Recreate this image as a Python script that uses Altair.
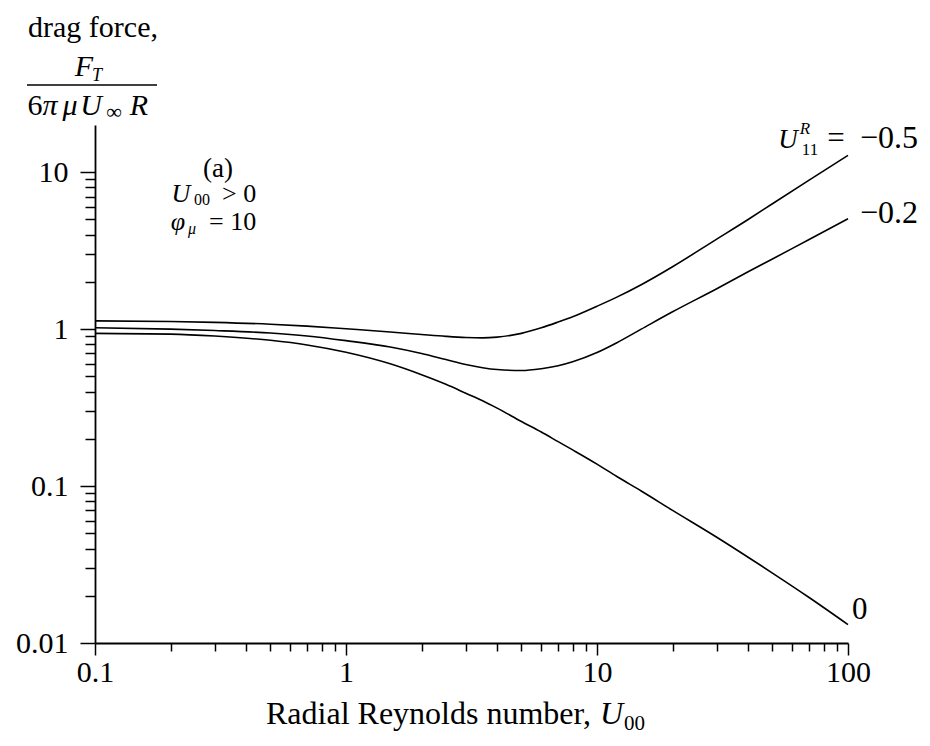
import altair as alt
import pandas as pd

# ---- data ----
X = [0.1, 0.2, 0.3, 0.5, 0.7, 1, 1.5, 2, 2.5, 3, 3.5, 4, 5, 6, 7, 8, 10, 12, 15, 20, 30, 40, 50, 70, 100]
TOP = [1.13, 1.12, 1.105, 1.075, 1.045, 1.005, 0.96, 0.925, 0.90, 0.885, 0.88, 0.89, 0.94, 1.02, 1.11, 1.20,
       1.40, 1.60, 1.92, 2.50, 3.75, 5.0, 6.3, 8.9, 12.8]
MID = [1.02, 1.0, 0.98, 0.945, 0.905, 0.845, 0.77, 0.70, 0.64, 0.595, 0.568, 0.553, 0.545, 0.56, 0.585, 0.62,
       0.71, 0.82, 1.0, 1.29, 1.81, 2.32, 2.8, 3.73, 5.05]
BOT = [0.94, 0.93, 0.904, 0.849, 0.793, 0.712, 0.601, 0.512, 0.445, 0.391, 0.35, 0.314, 0.258, 0.221, 0.192,
       0.170, 0.138, 0.115, 0.093, 0.070, 0.0472, 0.0352, 0.0279, 0.0195, 0.0131]
SERIES = ["-0.5", "-0.2", "0"]

X_TICKS = [0.1, 0.2, 0.3, 0.4, 0.5, 0.6, 0.7, 0.8, 0.9,
           1, 2, 3, 4, 5, 6, 7, 8, 9,
           10, 20, 30, 40, 50, 60, 70, 80, 90, 100]
Y_TICKS = [0.01, 0.02, 0.03, 0.04, 0.05, 0.06, 0.07, 0.08, 0.09,
           0.1, 0.2, 0.3, 0.4, 0.5, 0.6, 0.7, 0.8, 0.9,
           1, 2, 3, 4, 5, 6, 7, 8, 9, 10]
X_MAJOR = [0.1, 1, 10, 100]
Y_MAJOR = [0.01, 0.1, 1, 10]

FONT = "Liberation Serif"
OX, OY = 95, 125  # plot origin on the page (for annotation placement)

rows = []
for name, ys in zip(SERIES, [TOP, MID, BOT]):
    for xv, yv in zip(X, ys):
        rows.append({"x": xv, "y": yv, "series": name})
df = pd.DataFrame(rows)


def major_test(vals):
    return "indexof([" + ",".join(str(v) for v in vals) + "], datum.value) >= 0"


x_axis = alt.Axis(
    values=X_TICKS, title=None, grid=False, format="~g",
    labelExpr=major_test(X_MAJOR) + " ? datum.label : ''",
    tickSize={"condition": {"test": major_test(X_MAJOR), "value": 12}, "value": 8},
    labelPadding=2, labelFlush=False,
)
y_axis = alt.Axis(
    values=Y_TICKS, title=None, grid=False, format="~g",
    labelExpr=major_test(Y_MAJOR) + " ? datum.label : ''",
    tickSize={"condition": {"test": major_test(Y_MAJOR), "value": 15}, "value": 10},
    labelPadding=12, labelFlush=False,
)

lines = alt.Chart(df).mark_line(interpolate="monotone", color="black", strokeWidth=1.6).encode(
    x=alt.X("x:Q", scale=alt.Scale(type="log", domain=[0.1, 100], nice=False), axis=x_axis),
    y=alt.Y("y:Q", scale=alt.Scale(type="log", domain=[0.01, 20], nice=False), axis=y_axis),
    detail="series:N",
)


def txt(s, px, py, size=30, italic=False, align="center"):
    return alt.Chart(alt.Data(values=[{}])).mark_text(
        text=s, font=FONT, fontSize=size, fontStyle="italic" if italic else "normal",
        align=align, baseline="alphabetic", color="black",
    ).encode(x=alt.value(px - OX), y=alt.value(py - OY))


# end-point labels anchored on the data
ends = pd.DataFrame({"x": [X[-1]] * 3, "y": [TOP[-1], MID[-1], BOT[-1]], "series": SERIES})


def end_label(series, s, dx, dy, size=30, italic=False, align="left"):
    return alt.Chart(ends).transform_filter(alt.datum.series == series).mark_text(
        text=s, font=FONT, fontSize=size, fontStyle="italic" if italic else "normal",
        align=align, baseline="alphabetic", color="black", dx=dx, dy=dy,
    ).encode(x=alt.X("x:Q"), y=alt.Y("y:Q"))


labels = [
    end_label("-0.5", "U", -60, -7, size=27, italic=True, align="center"),
    end_label("-0.5", "R", -43, -21, size=17, italic=True, align="center"),
    end_label("-0.5", "11", -38, 0, size=17, align="center"),
    end_label("-0.5", "=", -12, -7, size=31, align="center"),
    end_label("-0.5", "\u22120.5", 12, -7, size=32),
    end_label("-0.2", "\u22120.2", 12, 4, size=32),
    end_label("0", "0", 4, -6, size=31),
]

# y-axis title block (top left)
bar = alt.Chart(alt.Data(values=[{}])).mark_rule(color="black", strokeWidth=1.5).encode(
    x=alt.value(27 - OX), x2=alt.value(157 - OX), y=alt.value(85 - OY)
)
ytitle = [
    txt("drag force,", 93, 37),
    txt("F", 84, 76, size=30, italic=True),
    txt("T", 97, 81, size=18, italic=True),
    bar,
    txt("6", 35, 115),
    txt("\u03c0", 50, 115, italic=True),
    txt("\u03bc", 70, 115, italic=True),
    txt("U", 91, 115, italic=True),
    txt("\u221e", 114, 119, size=22),
    txt("R", 139, 115, italic=True),
]

# in-plot annotation (a)
annot = [
    txt("(a)", 218, 177, size=27),
    txt("U", 181, 202, size=26, italic=True),
    txt("00", 202, 205, size=16),
    txt("> 0", 222, 202, size=26, align="left"),
    txt("\u03c6", 178, 230, size=26, italic=True),
    txt("\u03bc", 192, 234, size=16, italic=True),
    txt("= 10", 209, 230, size=26, align="left"),
]

# x-axis title
xtitle = [
    txt("Radial Reynolds number,", 266, 724, size=32, align="left"),
    txt("U", 600, 724, size=32, italic=True, align="left"),
    txt("00", 624, 730, size=21, align="left"),
]

chart = alt.layer(lines, *labels, *ytitle, *annot, *xtitle).properties(
    width=753, height=518,
    autosize=alt.AutoSizeParams(type="none"),
    padding={"left": OX - 8, "top": OY - 8, "right": 70, "bottom": 95},
).configure(background="white").configure_axis(
    domainColor="black", domainWidth=1.8, tickColor="black", tickWidth=1.5,
    labelFont=FONT, labelFontSize=30, labelColor="black",
).configure_view(strokeWidth=0)

chart.save("out.html", embed_options={"renderer": "svg", "actions": False})
